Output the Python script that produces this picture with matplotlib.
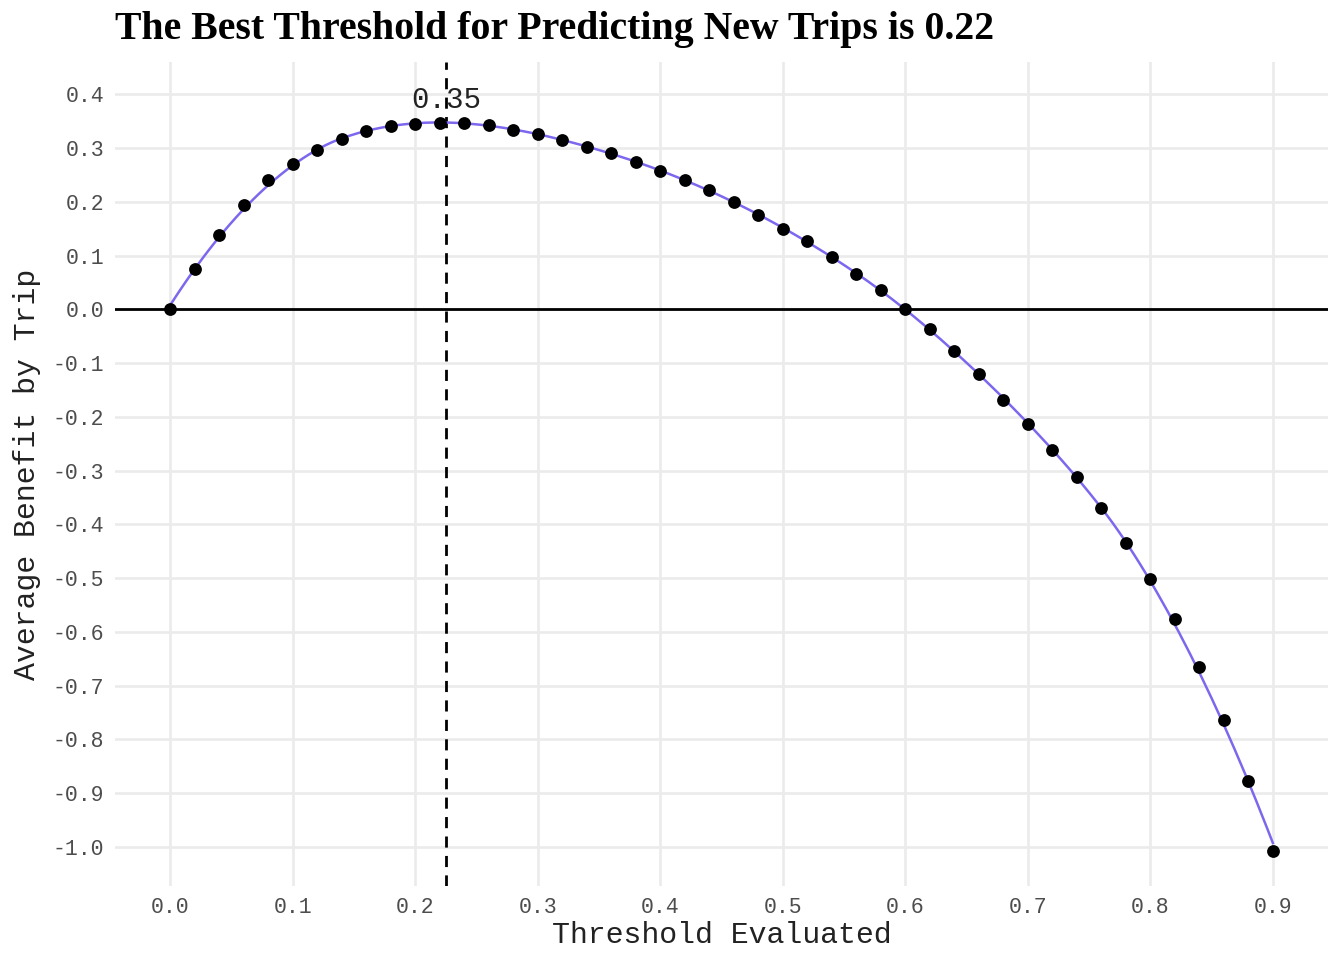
import numpy as np
import matplotlib
matplotlib.use("Agg")
import matplotlib.pyplot as plt

# ---- data ----
threshold = [0.00, 0.02, 0.04, 0.06, 0.08, 0.10, 0.12, 0.14, 0.16, 0.18,
             0.20, 0.22, 0.24, 0.26, 0.28, 0.30, 0.32, 0.34, 0.36, 0.38,
             0.40, 0.42, 0.44, 0.46, 0.48, 0.50, 0.52, 0.54, 0.56, 0.58,
             0.60, 0.62, 0.64, 0.66, 0.68, 0.70, 0.72, 0.74, 0.76, 0.78,
             0.80, 0.82, 0.84, 0.86, 0.88, 0.90]
avg_benefit = [0.000, 0.074, 0.138, 0.194, 0.240, 0.271, 0.297, 0.317, 0.331, 0.341,
               0.345, 0.347, 0.346, 0.342, 0.334, 0.326, 0.314, 0.302, 0.290, 0.274,
               0.257, 0.241, 0.222, 0.199, 0.175, 0.150, 0.127, 0.098, 0.065, 0.035,
               0.000, -0.037, -0.078, -0.121, -0.169, -0.214, -0.262, -0.313, -0.369, -0.434,
               -0.501, -0.577, -0.665, -0.764, -0.877, -1.007]
best_threshold = 0.225
best_value_label = "0.35"
label_y = 0.39
x_ticks = [0.0, 0.1, 0.2, 0.3, 0.4, 0.5, 0.6, 0.7, 0.8, 0.9]
y_ticks = [0.4, 0.3, 0.2, 0.1, 0.0, -0.1, -0.2, -0.3, -0.4, -0.5,
           -0.6, -0.7, -0.8, -0.9, -1.0]
title = "The Best Threshold for Predicting New Trips is 0.22"
x_label = "Threshold Evaluated"
y_label = "Average Benefit by Trip"


def loess(x, y, xg, span):
    x = np.asarray(x); y = np.asarray(y)
    n = len(x)
    q = int(np.floor(span * n))
    out = []
    for x0 in xg:
        d = np.abs(x - x0)
        h = np.sort(d)[q - 1] * 1.0001
        w = np.clip(1 - (d / h) ** 3, 0, None) ** 3
        X = np.vstack([np.ones(n), x - x0, (x - x0) ** 2]).T
        W = np.sqrt(w)
        beta, *_ = np.linalg.lstsq(X * W[:, None], y * W, rcond=None)
        out.append(beta[0])
    return np.array(out)


xg = np.linspace(min(threshold), max(threshold), 200)
yg = loess(threshold, avg_benefit, xg, span=0.35)

mono = "Liberation Mono"
fig = plt.figure(figsize=(13.44, 9.6), dpi=100)
ax = fig.add_axes([115 / 1344, 1 - 886 / 960, (1328 - 115) / 1344, (886 - 62) / 960])

ax.set_xlim(-0.045, 0.945)
ax.set_ylim(-1.073, 0.46)
ax.set_xticks(x_ticks)
ax.set_yticks(y_ticks)
ax.set_xticklabels([f"{v:.1f}" for v in x_ticks])
ax.set_yticklabels([f"{v:.1f}".replace("-0.0", "0.0") for v in y_ticks])
ax.grid(True, color="#ebebeb", linewidth=1.9)
ax.set_axisbelow(True)
for s in ax.spines.values():
    s.set_visible(False)
ax.tick_params(length=0, labelsize=15.5, labelcolor="#4d4d4d", pad=8)
for lab in ax.get_xticklabels() + ax.get_yticklabels():
    lab.set_fontfamily(mono)

ax.axhline(0, color="black", linewidth=2.0, zorder=2)
ax.axvline(best_threshold, color="black", linewidth=2.0, linestyle=(0, (4, 3)), zorder=2)
ax.plot(xg, yg, color="#7B68EE", linewidth=1.8, zorder=3)
ax.scatter(threshold, avg_benefit, s=85, color="black", zorder=4, linewidths=0)
ax.text(best_threshold, label_y, best_value_label, ha="center", va="center",
        fontsize=21, family=mono, color="#222222", zorder=5)

ax.set_xlabel(x_label, fontsize=21.5, family=mono, color="#222222", labelpad=2)
ax.set_ylabel(y_label, fontsize=21.5, family=mono, color="#222222", labelpad=8)
fig.text(115 / 1344, 1 - 30 / 960, title, ha="left", va="center",
         fontsize=28.6, family="Liberation Serif", fontweight="bold")

fig.savefig("out.png", dpi=100)
